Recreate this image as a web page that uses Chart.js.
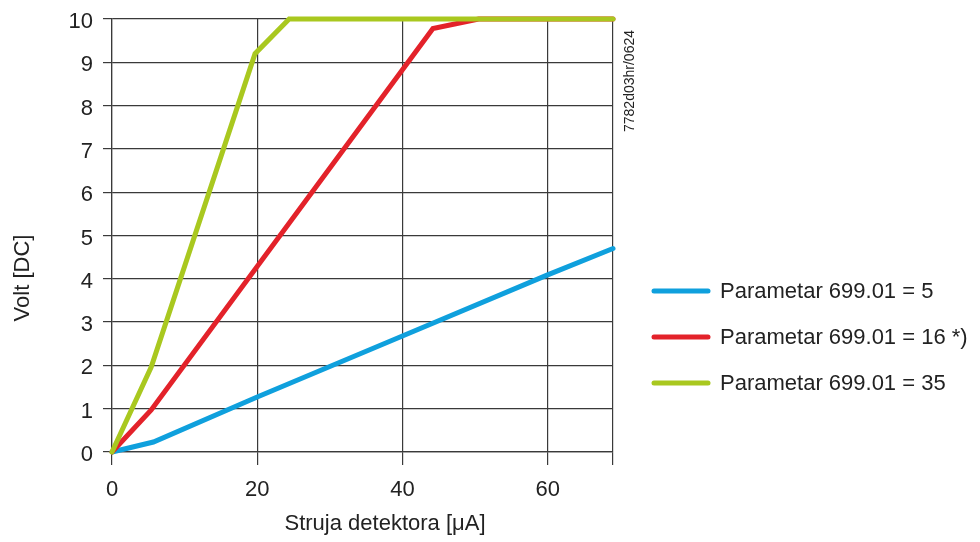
<!DOCTYPE html>
<html>
<head>
<meta charset="utf-8">
<script src="https://cdn.jsdelivr.net/npm/chart.js@4"></script>
<style>
  html, body { margin: 0; padding: 0; background: #fff; }
  canvas { display: block; }
</style>
</head>
<body>
<canvas id="chart" width="980" height="542"></canvas>
<script>
// series names
const seriesNames = ['Parametar 699.01 = 5', 'Parametar 699.01 = 16 *)', 'Parametar 699.01 = 35']
const seriesColors = ['#0fa0dd', '#e3222a', '#a9c81f']

// x = current [µA], y = volt
const blueX = [0, 5.7, 20, 40, 60, 69]
const blueY = [0, 0.23, 1.27, 2.68, 4.09, 4.7]
const redX = [0, 5.4, 44.2, 50.5, 69]
const redY = [0, 0.97, 9.78, 10, 10]
const greenX = [0, 5.4, 19.7, 24.4, 69]
const greenY = [0, 1.96, 9.2, 10, 10]

const xTitle = 'Struja detektora [μA]'
const yTitle = 'Volt [DC]'
const figCode = '7782d03hr/0624'

const FONT = '"Liberation Sans", Arial, Helvetica, sans-serif'
const TEXT = '#222'
const GRID = '#3a3a3a'

const toPoints = (xs, ys) => xs.map((x, i) => ({x: x, y: ys[i]}))

// titles, legend and the small code at the right
const extras = {
  id: 'extras',
  afterDraw(chart) {
    const ctx = chart.ctx
    ctx.save()
    ctx.fillStyle = TEXT
    ctx.font = '22px ' + FONT
    ctx.textAlign = 'center'
    ctx.textBaseline = 'middle'
    ctx.fillText(xTitle, 385, 524)

    ctx.save()
    ctx.translate(23, 278)
    ctx.rotate(-Math.PI / 2)
    ctx.fillText(yTitle, 0, 0)
    ctx.restore()

    ctx.save()
    ctx.font = '14px ' + FONT
    ctx.translate(630, 81)
    ctx.rotate(-Math.PI / 2)
    ctx.fillText(figCode, 0, 0)
    ctx.restore()

    // legend
    const rows = [291, 337, 383]
    ctx.textAlign = 'left'
    ctx.font = '22px ' + FONT
    chart.data.datasets.forEach((ds, i) => {
      ctx.strokeStyle = ds.borderColor
      ctx.lineWidth = 5
      ctx.lineCap = 'round'
      ctx.beginPath()
      ctx.moveTo(654, rows[i])
      ctx.lineTo(708, rows[i])
      ctx.stroke()
      ctx.fillStyle = TEXT
      ctx.fillText(ds.label, 720, rows[i] + 1)
    })
    ctx.restore()
  }
}

const chart = new Chart(document.getElementById('chart'), {
  type: 'line',
  data: {
    datasets: [
      {label: seriesNames[0], data: toPoints(blueX, blueY), borderColor: seriesColors[0], order: 2},
      {label: seriesNames[1], data: toPoints(redX, redY), borderColor: seriesColors[1], order: 1},
      {label: seriesNames[2], data: toPoints(greenX, greenY), borderColor: seriesColors[2], order: 0}
    ]
  },
  options: {
    responsive: false,
    animation: false,
    devicePixelRatio: 1,
    clip: false,
    layout: {padding: {left: 0, right: 367, top: 19, bottom: 0}},
    elements: {
      point: {radius: 0},
      line: {borderWidth: 5, tension: 0, borderCapStyle: 'round', borderJoinStyle: 'miter'}
    },
    plugins: {
      legend: {display: false},
      tooltip: {enabled: false}
    },
    scales: {
      x: {
        type: 'linear',
        min: 0,
        max: 69,
        afterFit: s => { s.height = 90; s.paddingLeft = 0; s.paddingRight = 0 },
        grid: {color: GRID, lineWidth: 1.2, tickLength: 13, tickColor: GRID},
        border: {color: GRID, width: 1.2},
        ticks: {
          stepSize: 20,
          padding: 12,
          color: TEXT,
          font: {family: FONT, size: 22},
          maxRotation: 0,
          callback: v => (v % 20 === 0 ? v : '')
        }
      },
      y: {
        min: 0,
        max: 10,
        afterFit: s => { s.width = 112; s.paddingTop = 0; s.paddingBottom = 0 },
        grid: {color: GRID, lineWidth: 1.2, tickLength: 9, tickColor: GRID},
        border: {color: GRID, width: 1.2},
        ticks: {
          stepSize: 1,
          padding: 10,
          labelOffset: 3,
          color: TEXT,
          font: {family: FONT, size: 22}
        }
      }
    }
  },
  plugins: [extras]
})
</script>
</body>
</html>
